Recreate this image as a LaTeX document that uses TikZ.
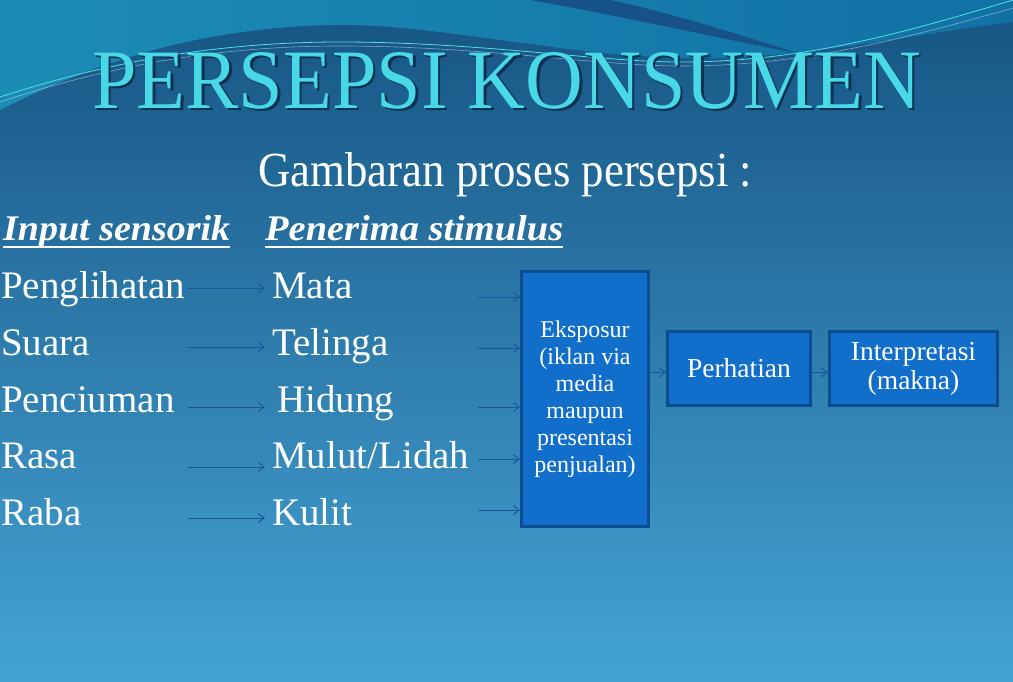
\documentclass[tikz,border=0pt]{standalone}
\usepackage{fontspec}
\setmainfont{Liberation Serif}
\usetikzlibrary{arrows.meta,calc}
\definecolor{bgtop}{RGB}{22,84,130}
\definecolor{bgmid}{RGB}{42,124,174}
\definecolor{bgbot}{RGB}{68,163,213}
\definecolor{wavelightL}{RGB}{28,140,182}
\definecolor{wavelightR}{RGB}{18,112,165}
\definecolor{wavedark}{RGB}{22,82,135}
\definecolor{waveline}{RGB}{80,225,225}
\definecolor{titlecyan}{RGB}{72,216,230}
\definecolor{titleshadow}{RGB}{6,36,62}
\definecolor{boxfill}{RGB}{17,110,202}
\definecolor{boxedge}{RGB}{12,76,145}
\definecolor{arrowblue}{RGB}{24,84,156}
\begin{document}
\begin{tikzpicture}[x=1pt,y=-1pt,
  arr/.style={draw=arrowblue, line width=0.9pt, -{Straight Barb[length=6pt,width=9pt]}},
  procbox/.style={draw=boxedge, fill=boxfill, line width=3pt, inner sep=0pt, align=center, text=white},
  lbl/.style={anchor=base west, inner sep=0pt, text=white, font=\fontsize{39}{40}\selectfont},
  hdr/.style={anchor=base west, inner sep=0pt, text=white}]
\useasboundingbox (0,0) rectangle (1013,681);
% background
\shade[top color=bgtop, middle color=bgmid, bottom color=bgbot] (0,0) rectangle (1013,681);
% top waves
\shade[left color=wavelightL, right color=wavelightR] (0,0) -- (0,110) .. controls (100,60) and (200,28) .. (333,25) .. controls (430,23) and (560,55) .. (680,58) .. controls (800,60) and (900,36) .. (1013,22) -- (1013,0) -- cycle;
\fill[wavedark] (530,0) .. controls (610,14) and (700,34) .. (800,54) .. controls (720,28) and (650,8) .. (610,0) -- cycle;
\draw[waveline, line width=0.8pt] (0,97) .. controls (120,58) and (230,42) .. (340,42) .. controls (480,42) and (600,62) .. (680,62) .. controls (800,62) and (900,34) .. (1013,0);
\draw[white, opacity=0.45, line width=0.6pt] (0,102) .. controls (120,62) and (230,46) .. (340,46) .. controls (480,46) and (600,66) .. (680,66) .. controls (800,66) and (900,40) .. (1013,8);
% title
\node[anchor=base west, inner sep=0pt, text=titleshadow, opacity=0.75] (tshadow) at (94.5,110.5) {\resizebox{829pt}{56pt}{PERSEPSI KONSUMEN}};
\node[anchor=base west, inner sep=0pt, text=titlecyan] (title) at (92,108) {\resizebox{829pt}{56pt}{PERSEPSI KONSUMEN}};
% subtitle
\node[hdr, font=\fontsize{45}{45}\selectfont] (sub) at (258,186) {\resizebox{494pt}{34pt}{Gambaran proses persepsi :}};
% headers
\node[hdr, font=\fontsize{39}{39}\selectfont\bfseries\itshape] (h1) at (3,240) {\resizebox{227pt}{25pt}{Input sensorik}};
\node[hdr, font=\fontsize{39}{39}\selectfont\bfseries\itshape] (h2) at (265,240) {\resizebox{298pt}{25pt}{Penerima stimulus}};
\draw[white, line width=1.6pt] ($(h1.base west)+(0,7)$) -- ($(h1.base east)+(0,7)$);
\draw[white, line width=1.6pt] ($(h2.base west)+(0,7)$) -- ($(h2.base east)+(0,7)$);
% input column
\node[lbl] (in1) at (1,298) {Penglihatan};
\node[lbl] (in2) at (1,355) {Suara};
\node[lbl] (in3) at (1,412) {Penciuman};
\node[lbl] (in4) at (1,468) {Rasa};
\node[lbl] (in5) at (1,525) {Raba};
% receptor column
\node[lbl] (rc1) at (272,298) {Mata};
\node[lbl] (rc2) at (272,355) {Telinga};
\node[lbl] (rc3) at (277,412) {Hidung};
\node[lbl] (rc4) at (272,468) {Mulut/Lidah};
\node[lbl] (rc5) at (272,525) {Kulit};
% boxes
\node[procbox, minimum width=127pt, minimum height=255pt, font=\fontsize{24}{27}\selectfont] (eks) at (585,399) {Eksposur\\(iklan via\\media\\maupun\\presentasi\\penjualan)};
\node[procbox, minimum width=143pt, minimum height=74pt, font=\fontsize{27.5}{29}\selectfont] (per) at (739,368.5) {Perhatian};
\node[procbox, minimum width=168pt, minimum height=74pt, font=\fontsize{27.5}{29}\selectfont] (int) at (913.5,368.5) {Interpretasi\\(makna)};
% arrow coordinates (column 1)
\coordinate (a1s) at (188,288); \coordinate (a1e) at (265,288);
\coordinate (a2s) at (188,347); \coordinate (a2e) at (265,347);
\coordinate (a3s) at (188,407); \coordinate (a3e) at (265,407);
\coordinate (a4s) at (188,467); \coordinate (a4e) at (265,467);
\coordinate (a5s) at (188,518); \coordinate (a5e) at (265,518);
\foreach \i in {1,...,5} {\draw[arr] (a\i s) -- (a\i e);}
% arrows into Eksposur
\coordinate (b1) at (478,297);
\coordinate (b2) at (478,348);
\coordinate (b3) at (478,407);
\coordinate (b4) at (478,459);
\coordinate (b5) at (478,510);
\foreach \i in {1,...,5} {\draw[arr] (b\i) -- (b\i -| eks.west);}
% process arrows
\draw[arr] ($(eks.east |- per.west)+(0,4)$) -- ($(per.west)+(0,4)$);
\draw[arr] ($(per.east)+(0,4)$) -- ($(int.west)+(0,4)$);
\end{tikzpicture}
\end{document}
